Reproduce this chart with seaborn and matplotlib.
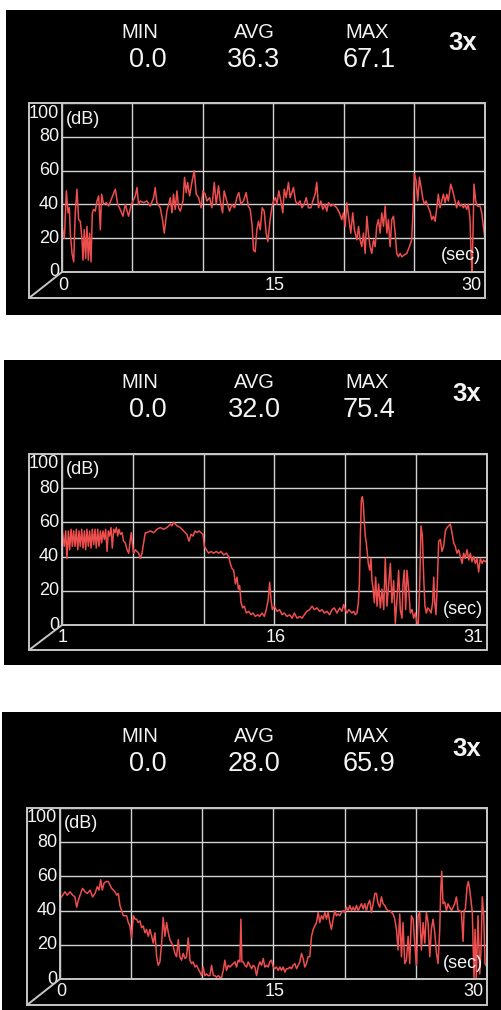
import pandas as pd
import matplotlib
matplotlib.use("Agg")
import matplotlib.pyplot as plt
from matplotlib.lines import Line2D
from matplotlib.patches import Rectangle
from matplotlib import transforms
import seaborn as sns

# ---- header values ----
MIN_VALS = [0.0, 0.0, 0.0]
AVG_VALS = [36.3, 32.0, 28.0]
MAX_VALS = [67.1, 75.4, 65.9]
ZOOM_LABEL = "3x"

# ---- x axis ranges and labels (sec) ----
X_RANGES = [(0, 30), (1, 31), (0, 30)]
X_LABELS = [[0, 15, 30], [1, 16, 31], [0, 15, 30]]
Y_TICKS = [0, 20, 40, 60, 80, 100]

# ---- panel 1 ----
T1 = [0.00, 0.17, 0.31, 0.43, 0.52, 0.59, 0.71, 0.83, 0.94, 1.06,
      1.18, 1.30, 1.42, 1.49, 1.58, 1.68, 1.77, 1.87, 1.96, 2.06,
      2.15, 2.24, 2.36, 2.48, 2.60, 2.72, 2.81, 2.95, 3.14, 3.31,
      3.54, 3.78, 3.95, 4.13, 4.32, 4.49, 4.72, 4.89, 5.03, 5.20,
      5.32, 5.43, 5.55, 5.79, 6.02, 6.26, 6.50, 6.61, 6.73, 6.97,
      7.13, 7.25, 7.44, 7.68, 7.80, 7.91, 8.03, 8.15, 8.27, 8.39,
      8.58, 8.69, 8.81, 8.91, 9.05, 9.21, 9.38, 9.52, 9.69, 9.87,
      9.99, 10.16, 10.28, 10.47, 10.63, 10.80, 10.94, 11.10, 11.22, 11.39,
      11.50, 11.69, 11.88, 12.05, 12.24, 12.40, 12.54, 12.69, 12.87, 13.06,
      13.21, 13.35, 13.49, 13.58, 13.70, 13.82, 13.94, 14.06, 14.20, 14.34,
      14.48, 14.60, 14.76, 14.88, 15.00, 15.14, 15.24, 15.38, 15.52, 15.66,
      15.76, 15.90, 16.06, 16.18, 16.30, 16.42, 16.56, 16.70, 16.89, 17.01,
      17.17, 17.32, 17.48, 17.65, 17.79, 17.95, 18.07, 18.19, 18.36, 18.50,
      18.66, 18.78, 18.90, 19.06, 19.25, 19.49, 19.68, 19.84, 19.96, 20.08,
      20.20, 20.32, 20.48, 20.62, 20.74, 20.91, 21.03, 21.14, 21.26, 21.38,
      21.50, 21.62, 21.73, 21.85, 21.97, 22.09, 22.21, 22.32, 22.44, 22.56,
      22.68, 22.80, 22.92, 23.04, 23.15, 23.27, 23.39, 23.51, 23.63, 23.74,
      23.86, 23.98, 24.10, 24.26, 24.45, 24.64, 24.80, 24.92, 24.99, 25.11,
      25.23, 25.35, 25.47, 25.58, 25.70, 25.82, 25.99, 26.10, 26.22, 26.34,
      26.46, 26.58, 26.69, 26.81, 26.93, 27.05, 27.17, 27.29, 27.40, 27.57,
      27.71, 27.88, 27.99, 28.11, 28.23, 28.35, 28.47, 28.58, 28.70, 28.82,
      28.94, 29.01, 29.08, 29.15, 29.22, 29.34, 29.46, 29.65, 29.77, 29.88,
      30.00]
DB1 = [27, 20, 48, 35, 38, 23, 11, 6, 35, 49,
       31, 30, 19, 7, 25, 8, 27, 7, 23, 6,
       35, 37, 36, 42, 45, 25, 46, 40, 41, 39,
       44, 49, 40, 37, 33, 40, 33, 39, 42, 45,
       50, 40, 42, 41, 42, 39, 44, 50, 41, 38,
       31, 23, 36, 44, 35, 46, 37, 48, 38, 36,
       42, 56, 47, 53, 45, 53, 60, 46, 44, 38,
       48, 46, 42, 44, 38, 53, 40, 51, 42, 35,
       48, 42, 36, 40, 38, 44, 47, 40, 42, 47,
       39, 37, 27, 13, 12, 25, 30, 25, 38, 36,
       23, 18, 31, 38, 42, 44, 40, 48, 42, 35,
       49, 44, 53, 44, 47, 50, 42, 40, 42, 38,
       40, 44, 38, 38, 42, 46, 53, 38, 42, 37,
       40, 36, 41, 39, 40, 38, 35, 31, 35, 27,
       41, 33, 23, 35, 25, 19, 27, 19, 15, 23,
       11, 33, 23, 15, 11, 19, 15, 27, 31, 23,
       35, 27, 39, 23, 31, 15, 31, 33, 23, 11,
       9, 11, 9, 10, 11, 15, 19, 40, 58, 54,
       42, 56, 50, 44, 40, 42, 38, 36, 31, 33,
       30, 38, 46, 38, 42, 46, 41, 46, 42, 52,
       48, 42, 38, 42, 39, 40, 38, 40, 37, 40,
       31, 11, 0, 23, 52, 42, 39, 39, 35, 27,
       20]

# ---- panel 2 ----
T2 = [1.00, 1.16, 1.26, 1.35, 1.45, 1.54, 1.64, 1.73, 1.82, 1.92,
      2.01, 2.11, 2.20, 2.29, 2.39, 2.48, 2.58, 2.67, 2.76, 2.86,
      2.95, 3.05, 3.14, 3.24, 3.33, 3.42, 3.52, 3.61, 3.71, 3.80,
      3.89, 3.99, 4.08, 4.18, 4.27, 4.36, 4.46, 4.55, 4.65, 4.74,
      4.84, 4.93, 5.02, 5.12, 5.24, 5.35, 5.47, 5.59, 5.71, 5.82,
      5.89, 5.96, 6.06, 6.18, 6.29, 6.41, 6.53, 6.65, 6.76, 6.88,
      7.00, 7.24, 7.47, 7.71, 7.94, 8.18, 8.41, 8.65, 8.76, 8.88,
      9.00, 9.12, 9.35, 9.59, 9.82, 9.96, 10.11, 10.25, 10.39, 10.53,
      10.67, 10.81, 10.95, 11.05, 11.19, 11.35, 11.52, 11.71, 11.89, 12.06,
      12.22, 12.41, 12.60, 12.76, 12.88, 13.00, 13.12, 13.24, 13.35, 13.45,
      13.54, 13.64, 13.75, 13.87, 14.01, 14.18, 14.34, 14.48, 14.65, 14.81,
      14.95, 15.12, 15.28, 15.42, 15.56, 15.66, 15.75, 15.85, 15.99, 16.18,
      16.36, 16.53, 16.69, 16.88, 17.07, 17.24, 17.40, 17.59, 17.78, 17.94,
      18.11, 18.29, 18.48, 18.65, 18.81, 19.00, 19.19, 19.35, 19.52, 19.71,
      19.89, 20.06, 20.22, 20.41, 20.60, 20.76, 20.88, 21.00, 21.12, 21.24,
      21.35, 21.47, 21.59, 21.71, 21.82, 21.92, 21.99, 22.06, 22.13, 22.20,
      22.27, 22.34, 22.41, 22.48, 22.55, 22.62, 22.72, 22.81, 22.88, 22.95,
      23.05, 23.14, 23.24, 23.35, 23.47, 23.59, 23.71, 23.82, 23.94, 24.06,
      24.18, 24.29, 24.41, 24.53, 24.65, 24.76, 24.88, 25.00, 25.07, 25.16,
      25.26, 25.35, 25.47, 25.59, 25.71, 25.82, 25.94, 26.06, 26.15, 26.25,
      26.34, 26.44, 26.53, 26.62, 26.72, 26.81, 26.93, 27.05, 27.16, 27.24,
      27.31, 27.40, 27.49, 27.59, 27.71, 27.82, 27.94, 28.06, 28.18, 28.29,
      28.41, 28.53, 28.65, 28.76, 28.88, 29.00, 29.12, 29.24, 29.35, 29.47,
      29.59, 29.71, 29.82, 29.94, 30.06, 30.18, 30.29, 30.41, 30.53, 30.65,
      30.76, 30.88, 31.00]
DB2 = [56, 46, 55, 39, 55, 44, 56, 46, 55, 46,
       56, 44, 55, 46, 56, 45, 55, 44, 56, 46,
       55, 45, 56, 47, 56, 45, 56, 46, 55, 48,
       55, 50, 56, 43, 55, 52, 57, 45, 56, 54,
       57, 52, 56, 53, 54, 49, 48, 44, 42, 50,
       54, 48, 42, 44, 43, 42, 39, 42, 48, 54,
       54, 55, 54, 56, 57, 56, 57, 59, 58, 60,
       59, 58, 57, 55, 53, 49, 53, 52, 55, 54,
       55, 54, 53, 46, 44, 42, 43, 42, 43, 42,
       43, 41, 42, 40, 36, 33, 32, 24, 28, 21,
       23, 13, 10, 11, 7, 8, 6, 7, 5, 6,
       5, 7, 5, 9, 15, 25, 15, 9, 11, 8,
       9, 6, 7, 5, 6, 4, 7, 4, 5, 4,
       6, 8, 9, 11, 9, 10, 8, 9, 7, 8,
       6, 9, 10, 7, 10, 8, 12, 9, 7, 9,
       8, 7, 8, 6, 7, 13, 24, 52, 73, 75,
       71, 60, 52, 48, 42, 36, 32, 39, 26, 22,
       13, 28, 11, 24, 10, 21, 9, 39, 11, 24,
       36, 13, 26, 1, 16, 32, 9, 4, 24, 32,
       9, 32, 21, 7, 9, 4, 7, 1, 0, 24,
       58, 52, 28, 11, 7, 10, 9, 7, 13, 28,
       13, 6, 24, 49, 50, 43, 46, 55, 57, 58,
       59, 54, 48, 46, 42, 44, 40, 36, 42, 39,
       44, 38, 42, 37, 40, 36, 39, 31, 39, 36,
       38, 37, 38]

# ---- panel 3 ----
T3 = [0.00, 0.19, 0.35, 0.51, 0.70, 0.89, 1.05, 1.17, 1.29, 1.45,
      1.59, 1.76, 1.92, 2.11, 2.29, 2.46, 2.62, 2.74, 2.86, 2.97,
      3.09, 3.23, 3.39, 3.51, 3.63, 3.74, 3.86, 3.98, 4.10, 4.21,
      4.33, 4.45, 4.56, 4.68, 4.80, 4.91, 5.03, 5.15, 5.27, 5.38,
      5.50, 5.62, 5.73, 5.85, 5.97, 6.08, 6.20, 6.32, 6.44, 6.55,
      6.67, 6.79, 6.90, 7.02, 7.14, 7.25, 7.37, 7.49, 7.61, 7.72,
      7.84, 7.96, 8.07, 8.19, 8.31, 8.42, 8.54, 8.66, 8.78, 8.89,
      9.01, 9.13, 9.24, 9.36, 9.48, 9.60, 9.71, 9.83, 9.95, 10.06,
      10.18, 10.30, 10.41, 10.53, 10.65, 10.77, 10.88, 11.00, 11.12, 11.23,
      11.35, 11.47, 11.58, 11.70, 11.82, 11.94, 12.05, 12.17, 12.29, 12.40,
      12.52, 12.64, 12.71, 12.78, 12.87, 12.99, 13.11, 13.22, 13.34, 13.46,
      13.57, 13.69, 13.81, 13.92, 14.04, 14.16, 14.28, 14.39, 14.51, 14.63,
      14.74, 14.86, 14.98, 15.09, 15.21, 15.33, 15.45, 15.56, 15.68, 15.80,
      15.91, 16.03, 16.15, 16.26, 16.38, 16.50, 16.62, 16.73, 16.85, 16.97,
      17.08, 17.20, 17.32, 17.43, 17.55, 17.67, 17.79, 17.90, 18.02, 18.14,
      18.25, 18.37, 18.49, 18.61, 18.72, 18.84, 18.96, 19.07, 19.19, 19.31,
      19.42, 19.54, 19.66, 19.78, 19.89, 20.01, 20.13, 20.24, 20.36, 20.48,
      20.59, 20.71, 20.83, 20.95, 21.06, 21.18, 21.30, 21.41, 21.53, 21.65,
      21.76, 21.88, 22.00, 22.12, 22.23, 22.35, 22.47, 22.58, 22.70, 22.82,
      22.93, 23.05, 23.17, 23.29, 23.40, 23.52, 23.64, 23.75, 23.87, 23.99,
      24.10, 24.22, 24.34, 24.46, 24.57, 24.69, 24.81, 24.92, 25.04, 25.16,
      25.27, 25.39, 25.51, 25.63, 25.74, 25.86, 25.98, 26.09, 26.21, 26.33,
      26.45, 26.56, 26.68, 26.75, 26.82, 26.91, 27.03, 27.15, 27.26, 27.38,
      27.50, 27.62, 27.73, 27.85, 27.97, 28.08, 28.20, 28.32, 28.39, 28.48,
      28.60, 28.69, 28.79, 28.90, 28.97, 29.02, 29.09, 29.16, 29.25, 29.37,
      29.49, 29.58, 29.67, 29.77, 29.86, 30.00]
DB3 = [47, 49, 51, 49, 51, 49, 48, 42, 46, 50,
       53, 51, 50, 52, 48, 50, 54, 52, 58, 52,
       56, 57, 57, 55, 53, 52, 51, 49, 50, 43,
       40, 37, 37, 37, 33, 31, 24, 37, 35, 35,
       33, 34, 30, 31, 27, 29, 25, 29, 25, 21,
       27, 13, 8, 10, 21, 36, 25, 33, 27, 23,
       21, 19, 15, 13, 23, 13, 11, 15, 12, 13,
       24, 11, 9, 10, 7, 8, 6, 4, 2, 7,
       2, 3, 2, 2, 8, 2, 2, 1, 2, 1,
       1, 5, 11, 5, 8, 7, 8, 9, 10, 7,
       11, 10, 35, 10, 10, 8, 7, 10, 8, 6,
       8, 7, 2, 7, 10, 8, 12, 7, 8, 7,
       10, 11, 7, 6, 7, 5, 7, 5, 7, 4,
       6, 6, 7, 6, 8, 9, 6, 8, 10, 15,
       12, 7, 9, 13, 13, 25, 29, 31, 33, 39,
       33, 37, 35, 39, 35, 39, 33, 29, 35, 40,
       37, 38, 37, 39, 40, 39, 42, 40, 43, 40,
       42, 40, 43, 40, 42, 44, 41, 44, 40, 44,
       46, 39, 44, 50, 50, 44, 42, 48, 44, 43,
       41, 40, 40, 39, 38, 35, 29, 17, 38, 13,
       33, 9, 11, 25, 9, 37, 35, 21, 8, 37,
       39, 17, 33, 21, 39, 33, 13, 29, 35, 27,
       15, 9, 29, 52, 63, 44, 45, 40, 44, 42,
       40, 42, 44, 48, 40, 40, 39, 22, 40, 41,
       54, 57, 52, 44, 39, 21, 0, 29, 0, 37,
       3, 17, 48, 37, 9, 7]

SERIES = [(T1, DB1), (T2, DB2), (T3, DB3)]

# ---- layout in pixels (left, top, right, bottom) ----
BOXES = [(6, 10, 502, 315), (4, 360, 502, 665), (2, 712, 502, 1010)]
PLOTS = [(62, 103, 485, 272), (62, 454, 487, 625), (60, 808, 487, 979)]
OUTER = [(29, 298), (29, 650), (27, 1005)]
HEAD_Y = [(32, 60), (382, 410), (736, 764)]
ZOOM_POS = [(463, 43), (467, 394), (467, 749)]
HEAD_X_LBL = [140, 254, 367]
HEAD_X_VAL = [148, 254, 369]

FRAME = "#c6c6c6"
GRID = "#d2d2d2"
RED = "#ee4e4e"
WHITE = "#f4f4f4"

sns.set_theme(style="dark")
plt.rcParams["font.family"] = ["Liberation Sans", "DejaVu Sans"]

W, H = 502, 1010
fig = plt.figure(figsize=(W / 100, H / 100), dpi=100, facecolor="white")


def fx(x):
    return x / W


def fy(y):
    return 1 - y / H


for i in range(3):
    bx0, by0, bx1, by1 = BOXES[i]
    fig.add_artist(Rectangle((fx(bx0), fy(by1)), fx(bx1 - bx0), (by1 - by0) / H,
                             transform=fig.transFigure, facecolor="black",
                             edgecolor="none", zorder=0))

    # header
    ly, vy = HEAD_Y[i]
    vals = [MIN_VALS[i], AVG_VALS[i], MAX_VALS[i]]
    for name, xl, xv, v in zip(["MIN", "AVG", "MAX"], HEAD_X_LBL, HEAD_X_VAL, vals):
        fig.text(fx(xl), fy(ly), name, color=WHITE, fontsize=14.5,
                 ha="center", va="center")
        fig.text(fx(xv), fy(vy), f"{v:.1f}", color=WHITE, fontsize=19.5,
                 ha="center", va="center")
    zx, zy = ZOOM_POS[i]
    fig.text(fx(zx), fy(zy), ZOOM_LABEL, color=WHITE, fontsize=18.5,
             fontweight="bold", ha="center", va="center")

    # chart area
    px0, py0, px1, py1 = PLOTS[i]
    ax = fig.add_axes([fx(px0), fy(py1), fx(px1 - px0), (py1 - py0) / H])
    ax.set_facecolor("black")
    t, db = SERIES[i]
    df = pd.DataFrame({"sec": t, "dB": db})
    sns.lineplot(data=df, x="sec", y="dB", ax=ax, color=RED, lw=1.1,
                 estimator=None, sort=False)
    x0, x1 = X_RANGES[i]
    ax.set_xlim(x0, x1)
    ax.set_ylim(0, 100)
    ax.set_xticks(range(x0, x1 + 1, 5))
    ax.set_yticks(Y_TICKS)
    ax.grid(True, color=GRID, lw=1.0)
    ax.tick_params(length=0, labelleft=False, labelbottom=False)
    ax.set_xlabel("")
    ax.set_ylabel("")
    for s in ax.spines.values():
        s.set_visible(True)
        s.set_color(FRAME)
        s.set_linewidth(1.4)

    # y labels
    for v in Y_TICKS:
        dy = -10 if v == 100 else 0
        tr = transforms.offset_copy(ax.transData, fig=fig, x=-3, y=dy, units="dots")
        ax.text(x0, v, str(v), transform=tr, color=WHITE, fontsize=13,
                ha="right", va="center", clip_on=False)
    # x labels
    for k, v in enumerate(X_LABELS[i]):
        ha = "right" if k == 2 else "center"
        dx = -4 if k == 2 else 1
        tr = transforms.offset_copy(ax.transData, fig=fig, x=dx, y=-13, units="dots")
        ax.text(v, 0, str(v), transform=tr, color=WHITE, fontsize=13,
                ha=ha, va="center", clip_on=False)
    tr = transforms.offset_copy(ax.transData, fig=fig, x=4, y=-16, units="dots")
    ax.text(x0, 100, "(dB)", transform=tr, color=WHITE, fontsize=13,
            ha="left", va="center")
    tr = transforms.offset_copy(ax.transData, fig=fig, x=-4, y=16, units="dots")
    ax.text(x1, 0, "(sec)", transform=tr, color=WHITE, fontsize=13,
            ha="right", va="center")

    # outer frame with slanted corner
    ox, oy = OUTER[i]
    frame_lines = [
        ([ox, px1], [py0, py0]),
        ([ox, ox], [py0, oy]),
        ([ox, px1], [oy, oy]),
        ([px1, px1], [py0, oy]),
        ([ox, px0], [oy, py1]),
    ]
    for xs, ys in frame_lines:
        fig.add_artist(Line2D([fx(x) for x in xs], [fy(y) for y in ys],
                              transform=fig.transFigure, color=FRAME, lw=1.4))

fig.savefig("out.png", dpi=100, facecolor="white")
